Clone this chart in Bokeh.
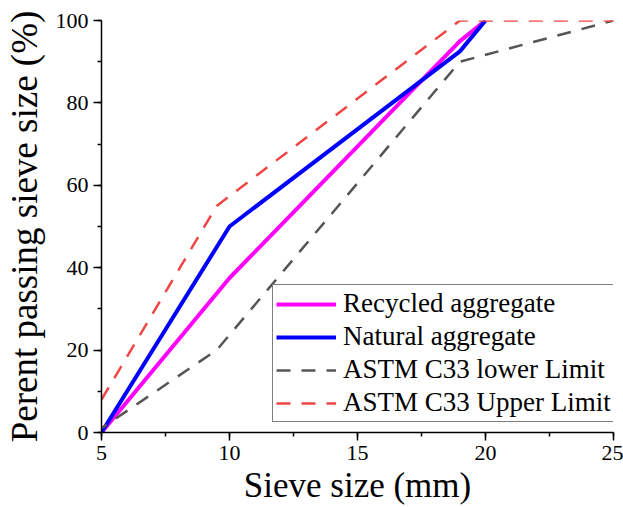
from bokeh.plotting import figure
from bokeh.models import Range1d, SingleIntervalTicker, Legend, LegendItem
from bokeh.embed import file_html
from bokeh.resources import INLINE

# Sieve sizes (mm) and percent passing
sieve = [5, 10, 19, 20]
recycled = [0, 37.5, 95, 100]
natural = [0, 50, 92.5, 100]

astm_lower_sieve = [4.75, 9.5, 19, 25]
astm_lower = [0, 20, 90, 100]

astm_upper_sieve = [5, 9.5, 19, 25]
astm_upper = [8, 55, 100, 100]

x_ticks_interval = 5
y_ticks_interval = 20

FONT = "Liberation Serif"

p = figure(width=623, height=507, output_backend="svg", toolbar_location=None,
           x_range=Range1d(5, 25), y_range=Range1d(0, 100),
           min_border_left=101, min_border_right=10, min_border_top=20,
           min_border_bottom=75)
p.grid.visible = False
p.outline_line_color = None

r_rec = p.line(sieve, recycled, line_color="#ff00ff", line_width=4)
r_nat = p.line(sieve, natural, line_color="#0000ff", line_width=4)
r_low = p.line(astm_lower_sieve, astm_lower, line_color="#555555", line_width=2.5,
               line_dash="14 11")
r_up = p.line(astm_upper_sieve, astm_upper, line_color="#f04545", line_width=2.5,
              line_dash="14 11")

p.xaxis.ticker = SingleIntervalTicker(interval=x_ticks_interval, num_minor_ticks=2)
p.yaxis.ticker = SingleIntervalTicker(interval=y_ticks_interval, num_minor_ticks=2)
p.xaxis.axis_label = "Sieve size (mm)"
p.yaxis.axis_label = "Perent passing sieve size (%)"

for ax in (p.xaxis[0], p.yaxis[0]):
    ax.axis_line_width = 1.5
    ax.axis_line_color = "black"
    ax.major_tick_line_color = "black"
    ax.minor_tick_line_color = "black"
    ax.major_tick_line_width = 1.5
    ax.minor_tick_line_width = 1.5
    ax.major_tick_out = 8
    ax.major_tick_in = 0
    ax.minor_tick_out = 4
    ax.minor_tick_in = 0
    ax.major_label_text_font = FONT
    ax.major_label_text_font_size = "22px"
    ax.major_label_text_color = "black"
    ax.major_label_standoff = 5
    ax.axis_label_text_font = FONT
    ax.axis_label_text_font_style = "normal"
    ax.axis_label_text_color = "black"

p.xaxis[0].axis_label_text_font_size = "35px"
p.xaxis[0].axis_label_standoff = 3
p.yaxis[0].axis_label_text_font_size = "37px"
p.yaxis[0].axis_label_standoff = 8

legend = Legend(items=[
    LegendItem(label="Recycled aggregate", renderers=[r_rec]),
    LegendItem(label="Natural aggregate", renderers=[r_nat]),
    LegendItem(label="ASTM C33 lower Limit", renderers=[r_low]),
    LegendItem(label="ASTM C33 Upper Limit", renderers=[r_up]),
], location=(171, 10), label_text_font=FONT, label_text_font_size="27px",
    label_text_color="black", glyph_width=60, glyph_height=20, label_standoff=7,
    spacing=2, padding=3, margin=0, border_line_color="black", border_line_width=1,
    background_fill_color="white", background_fill_alpha=1)
p.add_layout(legend)

open("out.html", "w").write(file_html(p, INLINE))
